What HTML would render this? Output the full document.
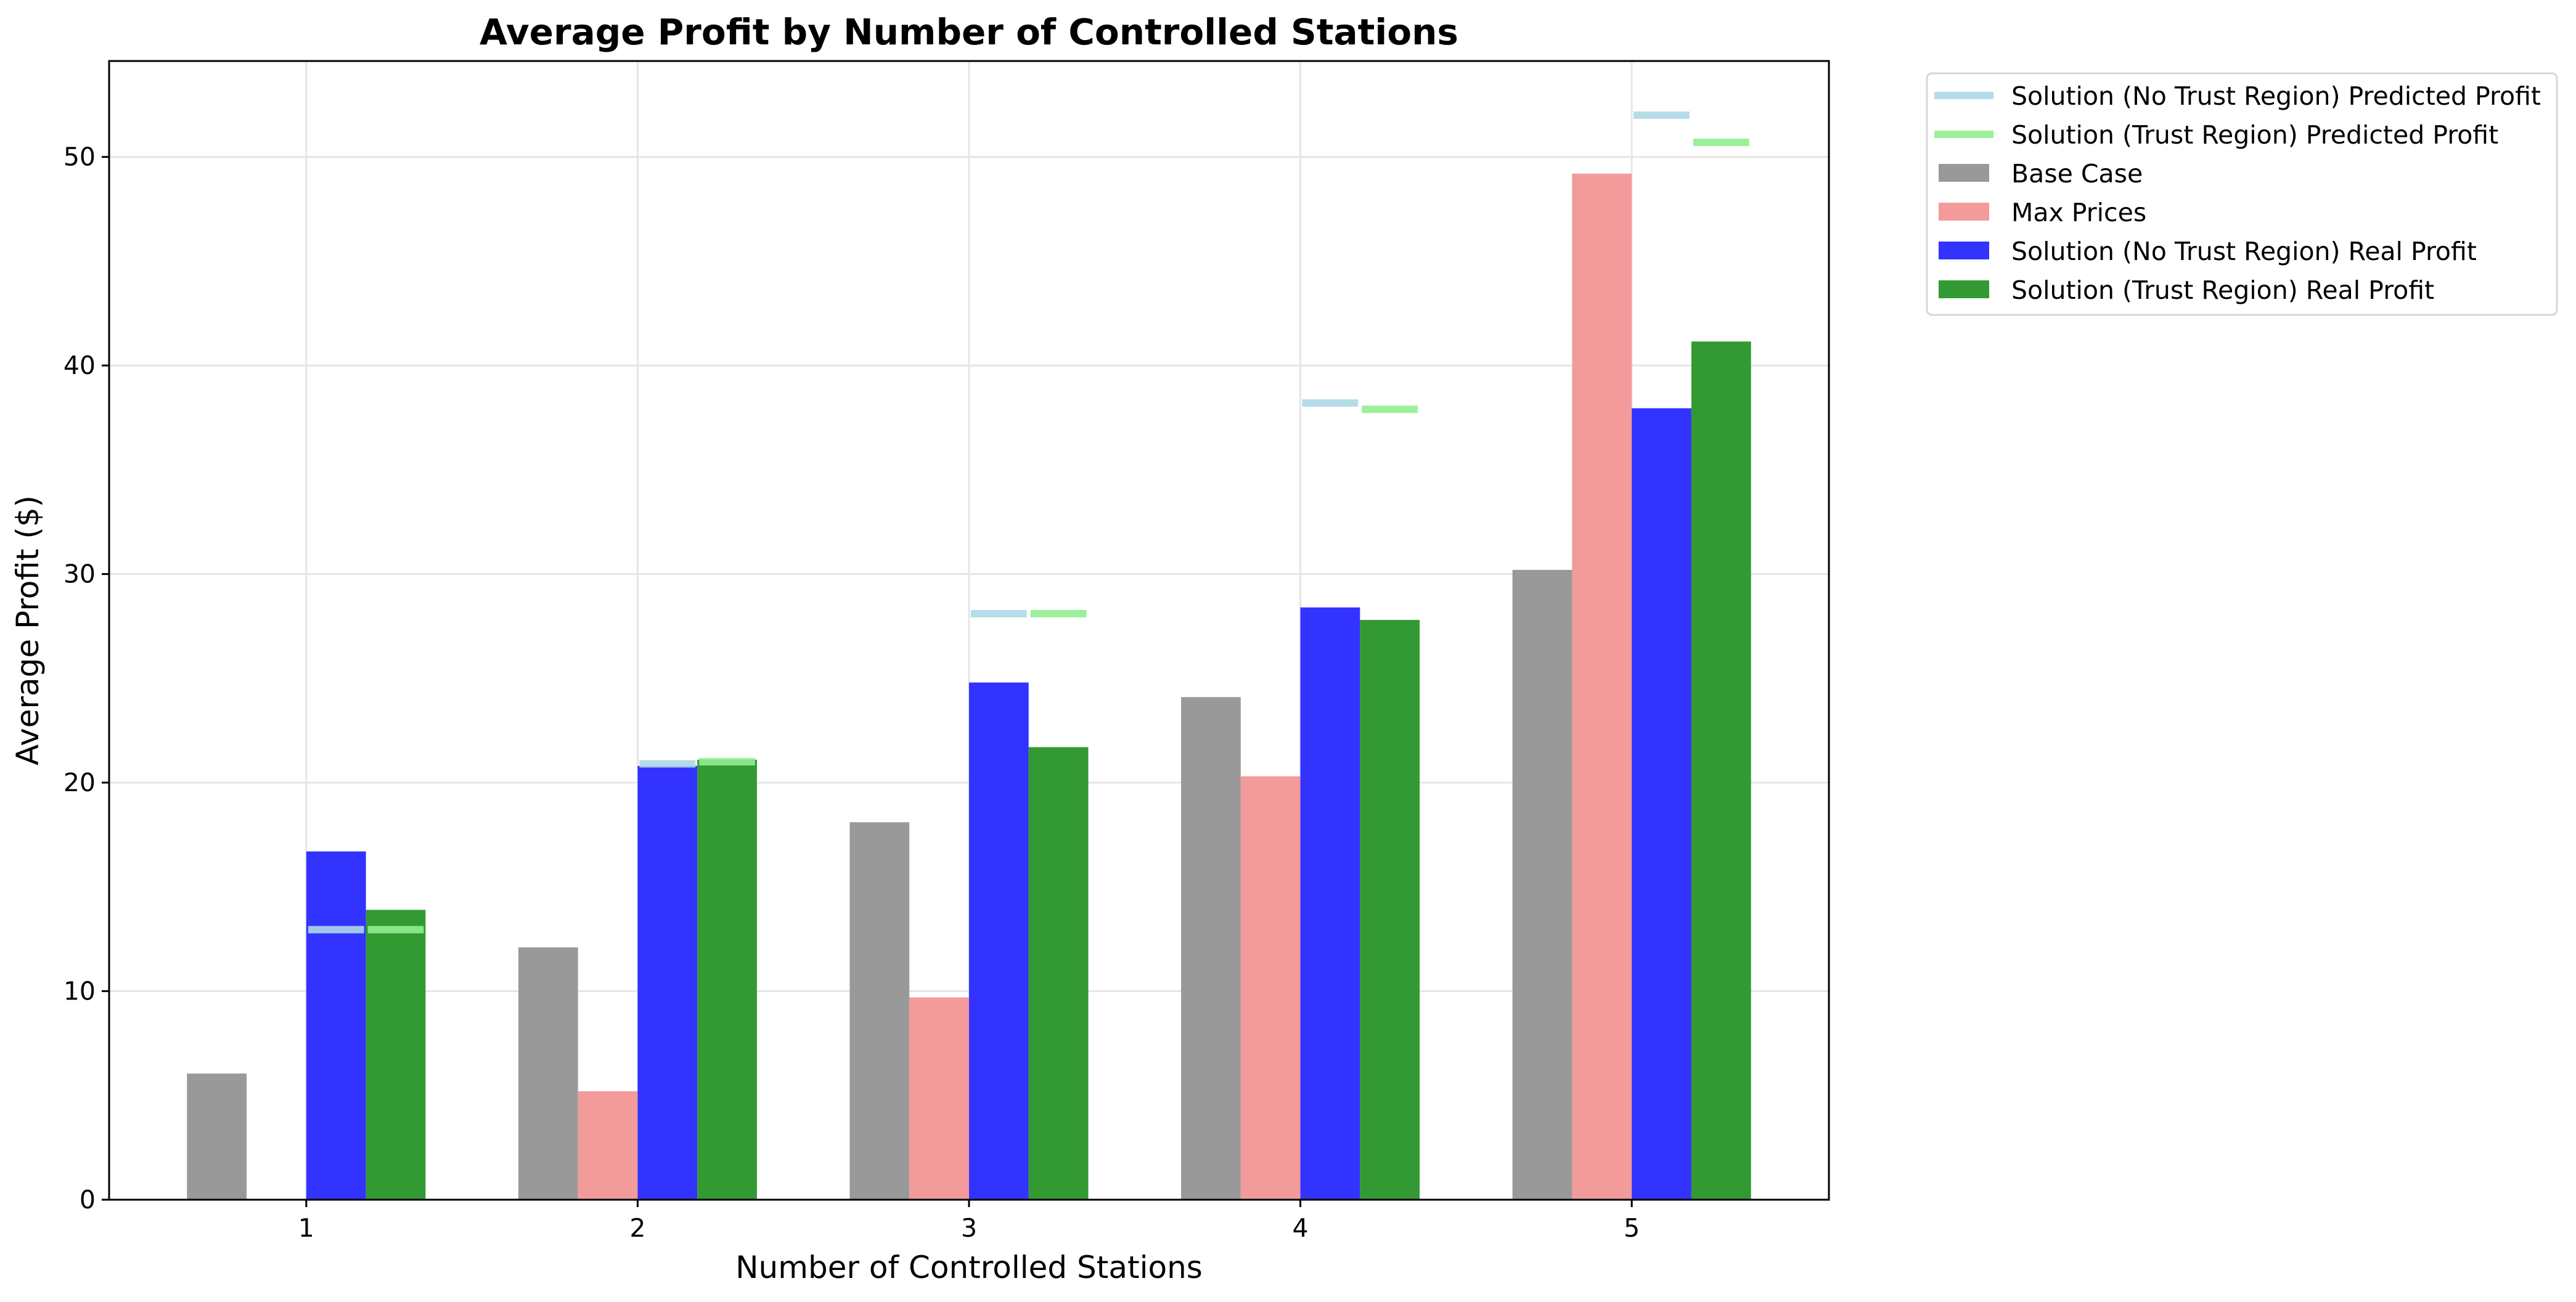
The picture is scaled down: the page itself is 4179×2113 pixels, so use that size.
<!DOCTYPE html>
<html><head><meta charset="utf-8"><style>
body{margin:0;background:#fff}
svg{display:block;font-family:"DejaVu Sans","Liberation Sans",sans-serif}
</style></head><body>
<svg id="chart" width="4179" height="2113" viewBox="0 0 4179 2113" xmlns="http://www.w3.org/2000/svg">
<rect width="4179" height="2113" fill="#fff"/>
<g id="grid"></g>
<g id="bars"></g>
<g id="axes"></g>
<text x="1572" y="72" text-anchor="middle" font-size="58" font-weight="bold">Average Profit by Number of Controlled Stations</text>
<text x="1572" y="2074" text-anchor="middle" font-size="50">Number of Controlled Stations</text>
<text transform="translate(62,1023) rotate(-90)" text-anchor="middle" font-size="50">Average Profit ($)</text>
<g id="legend">
<rect x="3126" y="119" width="1022" height="392" rx="8" fill="#fff" stroke="#d6d6d6" stroke-width="3"/>
<rect x="3138" y="149" width="96" height="12" fill="#add8e6" opacity="0.9"/>
<text x="3263" y="170" font-size="41">Solution (No Trust Region) Predicted Profit</text>
<rect x="3138" y="212" width="96" height="12" fill="#90ee90" opacity="0.9"/>
<text x="3263" y="233" font-size="41">Solution (Trust Region) Predicted Profit</text>
<rect x="3145" y="266" width="82" height="29" fill="#999999"/>
<text x="3263" y="296" font-size="41">Base Case</text>
<rect x="3145" y="329" width="82" height="29" fill="#f39a9a"/>
<text x="3263" y="359" font-size="41">Max Prices</text>
<rect x="3145" y="392" width="82" height="29" fill="#3333ff"/>
<text x="3263" y="422" font-size="41">Solution (No Trust Region) Real Profit</text>
<rect x="3145" y="455" width="82" height="29" fill="#339933"/>
<text x="3263" y="485" font-size="41">Solution (Trust Region) Real Profit</text>
</g>
</svg>
<script>
const categories = [1, 2, 3, 4, 5];
const baseCase = [6.05, 12.1, 18.1, 24.1, 30.2];
const maxPrices = [0, 5.2, 9.7, 20.3, 49.2];
const realNoTR = [16.7, 20.8, 24.8, 28.4, 37.95];
const realTR = [13.9, 21.1, 21.7, 27.8, 41.15];
const predNoTR = [12.95, 20.9, 28.1, 38.2, 52.0];
const predTR = [12.95, 21.0, 28.1, 37.9, 50.7];
const yTicks = [0, 10, 20, 30, 40, 50];

const L = 177, R = 2967, T = 99, B = 1947;
const X0 = 0.405, X1 = 5.595, Y0 = 0, Y1 = 54.6;
const NS = "http://www.w3.org/2000/svg";
function xs(v){ return L + (v - X0) / (X1 - X0) * (R - L); }
function ys(v){ return B - (v - Y0) / (Y1 - Y0) * (B - T); }
function mk(tag, attrs, parent){
  const e = document.createElementNS(NS, tag);
  for (const k in attrs) e.setAttribute(k, attrs[k]);
  parent.appendChild(e); return e;
}
const grid = document.getElementById('grid');
const bars = document.getElementById('bars');
const axes = document.getElementById('axes');
const W = 0.18;

categories.forEach(c => {
  const g = mk('line', {x1: xs(c), x2: xs(c), y1: T, y2: B, stroke: '#e5e5e5', 'stroke-width': 3}, grid);
  
  
});
yTicks.forEach(t => {
  const g = mk('line', {x1: L, x2: R, y1: ys(t), y2: ys(t), stroke: '#e5e5e5', 'stroke-width': 3}, grid);
  
  
});

const series = [
  {vals: baseCase, off: -2, color: '#999999', name: 'bar-base-case'},
  {vals: maxPrices, off: -1, color: '#f39a9a', name: 'bar-max-prices'},
  {vals: realNoTR, off: 0, color: '#3333ff', name: 'bar-real-no-trust'},
  {vals: realTR, off: 1, color: '#339933', name: 'bar-real-trust'}
];
series.forEach(s => {
  s.vals.forEach((v, i) => {
    const x = xs(categories[i] + s.off * W);
    const w = xs(categories[i] + (s.off + 1) * W) - x;
    const r = mk('rect', {x: x, y: ys(v), width: w, height: ys(0) - ys(v), fill: s.color}, bars);
    
    
  });
});
const preds = [
  {vals: predNoTR, off: 0, color: '#add8e6', name: 'predicted-no-trust-line'},
  {vals: predTR, off: 1, color: '#90ee90', name: 'predicted-trust-line'}
];
preds.forEach(s => {
  s.vals.forEach((v, i) => {
    const x1 = xs(categories[i] + s.off * W) + 3;
    const x2 = xs(categories[i] + (s.off + 1) * W) - 3;
    const r = mk('rect', {x: x1, y: ys(v) - 6, width: x2 - x1, height: 12, fill: s.color, opacity: 0.9}, bars);
    
    
  });
});

const frame = mk('rect', {x: L, y: T, width: R - L, height: B - T, fill: 'none', stroke: '#000', 'stroke-width': 3}, axes);


yTicks.forEach(t => {
  mk('line', {x1: L - 12, x2: L, y1: ys(t), y2: ys(t), stroke: '#000', 'stroke-width': 3}, axes);
  const tx = mk('text', {x: L - 22, y: ys(t) + 14, 'text-anchor': 'end', 'font-size': 41}, axes);
  tx.textContent = t;
  
  
});
categories.forEach(c => {
  mk('line', {x1: xs(c), x2: xs(c), y1: B, y2: B + 12, stroke: '#000', 'stroke-width': 3}, axes);
  const tx = mk('text', {x: xs(c), y: B + 60, 'text-anchor': 'middle', 'font-size': 41}, axes);
  tx.textContent = c;
  
  
});
</script>
</body></html>
